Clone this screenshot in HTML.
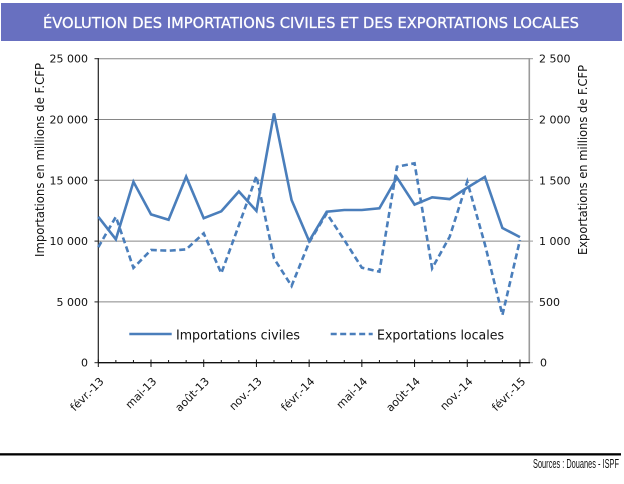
<!DOCTYPE html>
<html><head><meta charset="utf-8"><style>
html,body{margin:0;padding:0;background:#fff;}
svg{display:block;}
text{font-family:"DejaVu Sans","Liberation Sans",sans-serif;}
</style></head><body>
<svg width="624" height="484" viewBox="0 0 624 484" xmlns="http://www.w3.org/2000/svg">
<rect x="0" y="0" width="624" height="484" fill="#fff"/>
<rect x="1" y="3" width="621" height="38" fill="#6870c0"/>
<text x="311" y="28" fill="#fff" font-size="15.5" text-anchor="middle" textLength="536" lengthAdjust="spacingAndGlyphs" stroke="#fff" stroke-width="0.3">ÉVOLUTION DES IMPORTATIONS CIVILES ET DES EXPORTATIONS LOCALES</text>

<!-- gridlines -->
<g stroke="#868686" stroke-width="1">
<line x1="98" y1="58.7" x2="529" y2="58.7"/>
<line x1="98" y1="119.5" x2="529" y2="119.5"/>
<line x1="98" y1="180.3" x2="529" y2="180.3"/>
<line x1="98" y1="241.1" x2="529" y2="241.1"/>
<line x1="98" y1="301.9" x2="529" y2="301.9"/>
</g>
<!-- right axis -->
<line x1="529.3" y1="58" x2="529.3" y2="362.7" stroke="#9a9a9a" stroke-width="1.6"/>
<g stroke="#9a9a9a" stroke-width="1">
<line x1="529" y1="58.7" x2="533" y2="58.7"/>
<line x1="529" y1="119.5" x2="533" y2="119.5"/>
<line x1="529" y1="180.3" x2="533" y2="180.3"/>
<line x1="529" y1="241.1" x2="533" y2="241.1"/>
<line x1="529" y1="301.9" x2="533" y2="301.9"/>
<line x1="529" y1="362.7" x2="533" y2="362.7"/>
</g>
<!-- left axis -->
<line x1="98.3" y1="58" x2="98.3" y2="363" stroke="#222" stroke-width="1.2"/>
<g stroke="#222" stroke-width="1">
<line x1="94.5" y1="58.7" x2="98" y2="58.7"/>
<line x1="94.5" y1="119.5" x2="98" y2="119.5"/>
<line x1="94.5" y1="180.3" x2="98" y2="180.3"/>
<line x1="94.5" y1="241.1" x2="98" y2="241.1"/>
<line x1="94.5" y1="301.9" x2="98" y2="301.9"/>
<line x1="94.5" y1="362.7" x2="98" y2="362.7"/>
</g>
<!-- bottom axis -->
<line x1="98" y1="362.7" x2="530" y2="362.7" stroke="#111" stroke-width="1.3"/>
<g stroke="#111" stroke-width="1">
<line x1="98.3" y1="359.5" x2="98.3" y2="367"/>
<line x1="115.87" y1="360" x2="115.87" y2="362.7"/>
<line x1="133.44" y1="360" x2="133.44" y2="362.7"/>
<line x1="151.01" y1="359.5" x2="151.01" y2="367"/>
<line x1="168.58" y1="360" x2="168.58" y2="362.7"/>
<line x1="186.15" y1="360" x2="186.15" y2="362.7"/>
<line x1="203.72" y1="359.5" x2="203.72" y2="367"/>
<line x1="221.29" y1="360" x2="221.29" y2="362.7"/>
<line x1="238.86" y1="360" x2="238.86" y2="362.7"/>
<line x1="256.43" y1="359.5" x2="256.43" y2="367"/>
<line x1="274.0" y1="360" x2="274.0" y2="362.7"/>
<line x1="291.57" y1="360" x2="291.57" y2="362.7"/>
<line x1="309.14" y1="359.5" x2="309.14" y2="367"/>
<line x1="326.71" y1="360" x2="326.71" y2="362.7"/>
<line x1="344.28" y1="360" x2="344.28" y2="362.7"/>
<line x1="361.85" y1="359.5" x2="361.85" y2="367"/>
<line x1="379.42" y1="360" x2="379.42" y2="362.7"/>
<line x1="396.99" y1="360" x2="396.99" y2="362.7"/>
<line x1="414.56" y1="359.5" x2="414.56" y2="367"/>
<line x1="432.13" y1="360" x2="432.13" y2="362.7"/>
<line x1="449.7" y1="360" x2="449.7" y2="362.7"/>
<line x1="467.27" y1="359.5" x2="467.27" y2="367"/>
<line x1="484.84" y1="360" x2="484.84" y2="362.7"/>
<line x1="502.41" y1="360" x2="502.41" y2="362.7"/>
<line x1="519.98" y1="359.5" x2="519.98" y2="367"/>
</g>

<!-- left labels -->
<g font-size="11" fill="#111" text-anchor="end">
<text x="88" y="62.7">25 000</text>
<text x="88" y="123.5">20 000</text>
<text x="88" y="184.3">15 000</text>
<text x="88" y="245.1">10 000</text>
<text x="88" y="305.9">5 000</text>
<text x="88" y="366.7">0</text>
</g>
<!-- right labels -->
<g font-size="11" fill="#111" text-anchor="start">
<text x="539" y="62.7">2 500</text>
<text x="539" y="123.5">2 000</text>
<text x="539" y="184.3">1 500</text>
<text x="539" y="245.1">1 000</text>
<text x="539" y="305.9">500</text>
<text x="540" y="366.7">0</text>
</g>
<!-- axis titles -->
<text transform="translate(44,160) rotate(-90)" font-size="12" fill="#111" text-anchor="middle" textLength="194" lengthAdjust="spacingAndGlyphs">Importations en millions de F.CFP</text>
<text transform="translate(587,160) rotate(-90)" font-size="12" fill="#111" text-anchor="middle" textLength="190" lengthAdjust="spacingAndGlyphs">Exportations en millions de F.CFP</text>

<!-- x labels -->
<g font-size="11" fill="#111" text-anchor="end">
<text transform="translate(104.5,382) rotate(-45)">févr.-13</text>
<text transform="translate(157.2,382) rotate(-45)">mai-13</text>
<text transform="translate(209.9,382) rotate(-45)">août-13</text>
<text transform="translate(262.6,382) rotate(-45)">nov.-13</text>
<text transform="translate(315.3,382) rotate(-45)">févr.-14</text>
<text transform="translate(368.1,382) rotate(-45)">mai-14</text>
<text transform="translate(420.8,382) rotate(-45)">août-14</text>
<text transform="translate(473.5,382) rotate(-45)">nov.-14</text>
<text transform="translate(526.2,382) rotate(-45)">févr.-15</text>
</g>

<!-- series -->
<polyline fill="none" stroke="#4a7ebb" stroke-width="2.6" stroke-linejoin="miter" stroke-dasharray="6,3.5"
points="98.3,247.2 115.87,216.8 133.44,267.9 151.01,250.0 168.58,250.7 186.15,249.4 203.72,233.3 221.29,273.3 238.86,225.3 256.43,176.0 274.0,258.4 291.57,286.0 309.14,242.3 326.71,213.4 344.28,240.0 361.85,267.7 379.42,271.7 396.99,166.7 414.56,163.3 432.13,268.3 449.7,236.7 467.27,181.6 484.84,244.1 502.41,315.0 519.98,240.0"/>
<polyline fill="none" stroke="#4a7ebb" stroke-width="2.6" stroke-linejoin="miter"
points="98.3,216.8 115.87,239.3 133.44,181.8 151.01,214.4 168.58,219.8 186.15,176.7 203.72,218.2 221.29,211.3 238.86,191.5 256.43,210.9 274.0,113.4 291.57,200.0 309.14,241.1 326.71,211.7 344.28,210.0 361.85,210.0 379.42,208.3 396.99,177.6 414.56,204.6 432.13,197.3 449.7,199.1 467.27,187.6 484.84,176.9 502.41,228.0 519.98,237.1"/>

<!-- legend -->
<line x1="129.3" y1="334" x2="171.7" y2="334" stroke="#4a7ebb" stroke-width="2.6"/>
<text x="176" y="339.3" font-size="13.5" fill="#111" textLength="124" lengthAdjust="spacingAndGlyphs">Importations civiles</text>
<line x1="330.7" y1="334" x2="372.7" y2="334" stroke="#4a7ebb" stroke-width="2.6" stroke-dasharray="6,3.5"/>
<text x="377" y="339.3" font-size="13.5" fill="#111" textLength="127" lengthAdjust="spacingAndGlyphs">Exportations locales</text>

<!-- footer -->
<rect x="0" y="453.2" width="621" height="2.3" fill="#000"/>
<text x="619" y="468" font-size="12.5" fill="#111" text-anchor="end" textLength="86" lengthAdjust="spacingAndGlyphs" style="font-family:'Liberation Sans',sans-serif">Sources : Douanes - ISPF</text>
</svg>
</body></html>
